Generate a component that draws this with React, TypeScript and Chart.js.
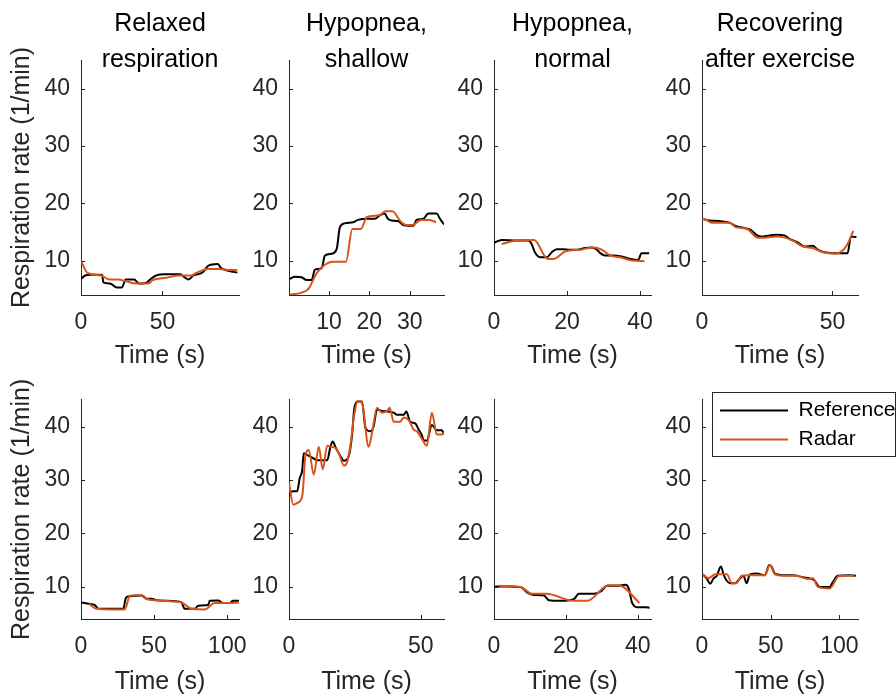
import React, { useEffect, useRef } from "react";
import { Chart, registerables } from "chart.js";

Chart.register(...registerables);

// ---------- Text ----------
const columnTitles: string[][] = [
  ["Relaxed", "respiration"],
  ["Hypopnea,", "shallow"],
  ["Hypopnea,", "normal"],
  ["Recovering", "after exercise"],
];
const xAxisLabel = "Time (s)";
const yAxisLabel = "Respiration rate (1/min)";
const seriesNames = ["Reference", "Radar"];
const yTickValues = [10, 20, 30, 40];

// ---------- Row 1, panel 1: Relaxed respiration ----------
const p1RefT = [0, 2.5, 6, 10, 13, 13.7, 17.8, 22, 25, 27.5, 32.6, 35.7, 39.8, 42.8, 46.9, 51, 61, 63.5, 66, 69, 75, 78, 84, 86, 91, 96];
const p1RefV = [6.8, 7.4, 7.55, 7.55, 7.5, 6.2, 6.0, 5.3, 5.3, 6.7, 6.7, 6.0, 6.1, 6.8, 7.5, 7.6, 7.6, 7.1, 6.7, 7.4, 8.0, 9.1, 9.4, 8.7, 8.2, 7.9];
const p1RadT = [0, 4, 12.3, 17.5, 22.5, 28.7, 33.8, 41.4, 44, 52.3, 60.5, 67.7, 70.7, 78, 85, 91, 96];
const p1RadV = [10.0, 7.85, 7.4, 6.7, 6.7, 6.3, 6.0, 6.0, 6.6, 7.0, 7.4, 7.4, 7.85, 8.55, 8.55, 8.35, 8.35];
const p1XTicks = [0, 50];

// ---------- Row 1, panel 2: Hypopnea, shallow ----------
const p2RefT = [0.2, 1.6, 3.2, 4.5, 5.7, 6.5, 8.2, 9.0, 10.6, 11.9, 12.7, 13.9, 16, 17.2, 19.3, 21.3, 22.6, 23.8, 24.6, 25.5, 27.1, 28.4, 29.6, 30.9, 31.7, 33.4, 34.6, 36.7, 37.5, 38.5];
const p2RefV = [6.8, 7.2, 7.1, 6.6, 6.6, 8.4, 8.7, 10.9, 11.2, 12.0, 15.8, 16.5, 16.7, 17.1, 17.3, 17.3, 17.9, 18.2, 17.3, 17.0, 16.9, 16.2, 16.1, 16.1, 17.1, 17.3, 18.2, 18.2, 17.3, 16.3];
const p2RadT = [0.4, 4.7, 7.1, 10.9, 14.2, 15.8, 17.9, 19.4, 22.4, 24.1, 25.7, 27.8, 29.1, 30.7, 32.8, 34.8, 36.5];
const p2RadV = [4.05, 4.9, 7.95, 9.8, 9.8, 15.5, 15.5, 17.6, 17.9, 18.6, 18.6, 16.8, 16.2, 16.2, 17.1, 17.1, 16.7];
const p2XTicks = [10, 20, 30];

// ---------- Row 1, panel 3: Hypopnea, normal ----------
const p3RefT = [0, 2.1, 6.2, 9.4, 10.3, 11.2, 12.6, 14.5, 15.8, 17.2, 19.1, 20.5, 22.7, 25, 26.8, 28.2, 29.1, 30.4, 32.7, 35, 37.3, 39.5, 40.4, 42.5];
const p3RefV = [13.1, 13.6, 13.5, 13.5, 12.9, 11.45, 10.6, 10.6, 11.45, 12.0, 12.0, 11.9, 11.9, 12.2, 12.3, 11.9, 11.3, 10.9, 10.9, 10.7, 10.3, 10.1, 11.3, 11.3];
const p3RadT = [2.1, 6.2, 11.0, 14.7, 16.4, 19.5, 23.6, 27.3, 29.5, 31.8, 35, 37.8, 41.2];
const p3RadV = [12.9, 13.5, 13.6, 10.3, 10.3, 11.6, 11.9, 12.3, 11.9, 10.9, 10.5, 10.0, 9.9];
const p3XTicks = [0, 20, 40];

// ---------- Row 1, panel 4: Recovering after exercise ----------
const p4RefT = [0, 2.9, 6.7, 10.6, 13.1, 17, 18.9, 20.8, 22.7, 25.9, 28.4, 31.6, 33.5, 36.7, 39.3, 42.4, 44.4, 46.9, 50.1, 53.3, 55.8, 57.1, 59.2];
const p4RefV = [17.3, 17.0, 16.9, 16.6, 16.0, 15.6, 15.3, 14.5, 14.2, 14.4, 14.5, 14.4, 13.8, 13.2, 12.45, 12.6, 11.9, 11.45, 11.3, 11.3, 11.3, 14.2, 14.1];
const p4RadT = [0, 1.7, 3.6, 10.6, 13.1, 17, 21.4, 24, 28.4, 31, 34.8, 38.7, 42.4, 46.3, 51.4, 54, 55.8, 58];
const p4RadV = [17.3, 17.1, 16.6, 16.6, 15.8, 15.6, 14.0, 14.0, 14.2, 14.1, 13.5, 12.45, 12.2, 11.45, 11.2, 11.8, 12.9, 15.2];
const p4XTicks = [0, 50];

// ---------- Row 2, panel 5 ----------
const p5RefT = [0.3, 6.1, 9.5, 11.8, 19.8, 28.9, 30.7, 33.4, 41.4, 44.8, 48.2, 51.6, 58.4, 65.2, 68.7, 70.9, 77.8, 80.1, 86.9, 88, 93.7, 97.1, 101.7, 103.9, 108];
const p5RefV = [7.1, 6.8, 6.6, 5.9, 5.9, 5.9, 7.95, 8.25, 8.4, 7.8, 7.8, 7.5, 7.4, 7.3, 7.1, 5.9, 5.9, 6.5, 6.6, 7.4, 7.45, 7.0, 7.0, 7.4, 7.4];
const p5RadT = [5.7, 10.7, 19.8, 30, 33.4, 41.4, 45.9, 51.6, 60.7, 68.7, 75.5, 84.6, 91.4, 101.7, 108];
const p5RadV = [6.8, 5.9, 5.8, 5.8, 8.35, 8.5, 7.65, 7.5, 7.3, 7.1, 5.9, 5.8, 7.0, 7.0, 7.1];
const p5XTicks = [0, 50, 100];

// ---------- Row 2, panel 6 ----------
const p6RefT = [0, 1.2, 3.1, 4.1, 5, 5.6, 7.5, 8.8, 10.7, 14.5, 15.7, 16.6, 17.6, 19.5, 20.8, 22.7, 23.9, 24.8, 26.1, 27.7, 29, 30.9, 32.1, 33.4, 35.3, 37.8, 39.7, 41, 43.5, 44.5, 46, 47.9, 49.2, 50.4, 51.1, 52.3, 54.2, 56.1, 58, 58.8];
const p6RefV = [27.2, 27.9, 27.9, 30.4, 31.8, 35.0, 34.5, 34.2, 33.7, 33.7, 36.2, 37.2, 36.2, 34.5, 33.6, 34.5, 38.3, 43.5, 44.7, 44.7, 39.7, 39.1, 40.0, 43.2, 42.9, 42.8, 42.6, 42.2, 42.2, 42.8, 40.9, 40.6, 39.4, 38.4, 37.4, 37.4, 40.3, 39.3, 39.3, 38.5];
const p6RadT = [0, 1.6, 3.1, 5, 6.3, 7.5, 9.4, 11.3, 12.8, 14.5, 16.1, 17.6, 18.9, 20.8, 22, 23.3, 24.6, 26.1, 27.7, 30.2, 31.5, 33.4, 35.3, 37.2, 38.2, 39.7, 42.2, 43.5, 45.4, 47.3, 48.5, 50.4, 52.3, 54.2, 56.1, 58, 58.9];
const p6RadV = [29.5, 25.4, 25.7, 26.9, 34.8, 35.6, 31.0, 36.2, 32.0, 36.4, 36.2, 36.0, 35.0, 32.7, 33.3, 36.5, 41.7, 44.8, 44.4, 36.2, 38.8, 43.5, 42.6, 42.9, 43.5, 40.9, 40.9, 41.7, 41.2, 39.4, 39.1, 37.7, 36.4, 42.6, 38.5, 38.5, 38.8];
const p6XTicks = [0, 50];

// ---------- Row 2, panel 7 ----------
const p7RefT = [0.3, 3.7, 7.4, 9.3, 11.1, 13.9, 15.3, 18.5, 22.2, 23.6, 27.8, 29.6, 31.5, 34.3, 36.6, 37.5, 38.4, 39.8, 42.1, 43.3];
const p7RefV = [10.1, 10.1, 10.0, 8.95, 8.5, 8.4, 7.5, 7.4, 7.7, 8.7, 8.7, 9.1, 10.2, 10.2, 10.4, 9.7, 7.1, 6.2, 6.2, 6.1];
const p7RadT = [1.4, 7.4, 10.6, 14.6, 22.2, 25.9, 31.9, 34.7, 40.5];
const p7RadV = [10.2, 10.0, 8.7, 8.7, 7.4, 7.4, 10.3, 10.3, 7.0];
const p7XTicks = [0, 20, 40];

// ---------- Row 2, panel 8 ----------
const p8RefT = [0.7, 3.6, 6, 8.4, 10.8, 13.7, 15.7, 17.6, 20.5, 24.1, 27.7, 30.1, 32.5, 34.9, 39.8, 45.8, 48.9, 50.6, 53, 59, 66.3, 73.5, 78.3, 81.9, 85.5, 92.8, 95.2, 98.8, 107.2, 112];
const p8RefV = [12.35, 11.5, 10.6, 11.6, 12.1, 13.8, 12.35, 11.3, 10.7, 10.7, 11.6, 12.1, 10.7, 12.35, 12.5, 12.2, 14.1, 13.8, 12.5, 12.2, 12.2, 11.8, 11.6, 11.2, 10.0, 10.0, 10.9, 12.1, 12.2, 12.1];
const p8RadT = [0.7, 4.8, 9.6, 18.1, 21.7, 24.8, 28.9, 34.9, 45.8, 49.4, 53, 59, 68.7, 77.1, 80.7, 84.3, 92.8, 100, 110.8];
const p8RadV = [12.35, 11.6, 12.35, 12.35, 10.7, 10.7, 12.1, 12.2, 12.2, 14.1, 12.35, 12.1, 12.1, 11.5, 11.6, 10.0, 9.7, 12.1, 12.1];
const p8XTicks = [0, 50, 100];

// ---------- Styling / layout ----------
const FONT = "'Liberation Sans', Arial, Helvetica, sans-serif";
const AXIS = "#262626";
const REF_COLOR = "#000000";
const RADAR_COLOR = "#D95319";

// page-pixel layout of each column: canvas left, plot left, plot right
const COLS = [
  { canvasLeft: 0, plotLeft: 81, plotRight: 239 },
  { canvasLeft: 240, plotLeft: 289, plotRight: 444 },
  { canvasLeft: 445, plotLeft: 494, plotRight: 651 },
  { canvasLeft: 652, plotLeft: 702, plotRight: 858 },
];
const ROWS = [
  { canvasTop: 0, canvasH: 375, plotTop: 60, plotBottom: 295, xTitlePad: 4 },
  { canvasTop: 375, canvasH: 322, plotTop: 385, plotBottom: 619, xTitlePad: 0 },
];
const CANVAS_RIGHT_PAD = 25;
const PAGE_W = 896;
const PAGE_H = 697;
const LEGEND_FRAME = { left: 712, top: 392, right: 896, bottom: 457 };

type PanelDef = {
  row: number;
  col: number;
  refT: number[];
  refV: number[];
  radT: number[];
  radV: number[];
  xMin: number;
  xMax: number;
  xTicks: number[];
  legend?: boolean;
};

const panels: PanelDef[] = [
  { row: 0, col: 0, refT: p1RefT, refV: p1RefV, radT: p1RadT, radV: p1RadV, xMin: 0, xMax: 97, xTicks: p1XTicks },
  { row: 0, col: 1, refT: p2RefT, refV: p2RefV, radT: p2RadT, radV: p2RadV, xMin: 0.1, xMax: 38.5, xTicks: p2XTicks },
  { row: 0, col: 2, refT: p3RefT, refV: p3RefV, radT: p3RadT, radV: p3RadV, xMin: 0, xMax: 43, xTicks: p3XTicks },
  { row: 0, col: 3, refT: p4RefT, refV: p4RefV, radT: p4RadT, radV: p4RadV, xMin: 0, xMax: 59.8, xTicks: p4XTicks },
  { row: 1, col: 0, refT: p5RefT, refV: p5RefV, radT: p5RadT, radV: p5RadV, xMin: 0, xMax: 108, xTicks: p5XTicks },
  { row: 1, col: 1, refT: p6RefT, refV: p6RefV, radT: p6RadT, radV: p6RadV, xMin: 0, xMax: 58.8, xTicks: p6XTicks },
  { row: 1, col: 2, refT: p7RefT, refV: p7RefV, radT: p7RadT, radV: p7RadV, xMin: 0, xMax: 43.7, xTicks: p7XTicks },
  { row: 1, col: 3, refT: p8RefT, refV: p8RefV, radT: p8RadT, radV: p8RadV, xMin: 0, xMax: 113.5, xTicks: p8XTicks, legend: true },
];

const zip = (t: number[], v: number[]) => t.map((x, i) => ({ x, y: v[i] }));

// inward tick marks (MATLAB style)
const inwardTicks = {
  id: "inwardTicks",
  afterDatasetsDraw(chart: any) {
    const { ctx, chartArea, scales } = chart;
    const len = 4;
    ctx.save();
    ctx.strokeStyle = AXIS;
    ctx.lineWidth = 1;
    scales.x.ticks.forEach((t: any) => {
      const px = Math.round(scales.x.getPixelForValue(t.value)) + 0.5;
      ctx.beginPath();
      ctx.moveTo(px, chartArea.bottom);
      ctx.lineTo(px, chartArea.bottom - len);
      ctx.stroke();
    });
    scales.y.ticks.forEach((t: any) => {
      const py = Math.round(scales.y.getPixelForValue(t.value)) + 0.5;
      ctx.beginPath();
      ctx.moveTo(chartArea.left, py);
      ctx.lineTo(chartArea.left + len, py);
      ctx.stroke();
    });
    ctx.restore();
  },
};

// place the legend box at a fixed spot and draw its frame
const legendPlace = {
  id: "legendPlace",
  afterLayout(chart: any, _args: any, opts: any) {
    const lg = chart.legend;
    if (!lg || !opts || !opts.box) return;
    const b = opts.box;
    lg.left = b.left;
    lg.top = b.top;
    lg.right = b.right;
    lg.bottom = b.bottom + 60; // room so both items stay in one column
    lg.width = lg.right - lg.left;
    lg.height = lg.bottom - lg.top;
  },
  afterDraw(chart: any, _args: any, opts: any) {
    if (!opts || !opts.box) return;
    const b = opts.box;
    const ctx = chart.ctx;
    ctx.save();
    ctx.strokeStyle = AXIS;
    ctx.lineWidth = 1;
    ctx.strokeRect(b.left + 0.5, b.top + 0.5, b.right - b.left - 1, b.bottom - b.top - 1);
    ctx.restore();
  },
};

function Panel({ def }: { def: PanelDef }) {
  const ref = useRef<HTMLCanvasElement>(null);
  const colL = COLS[def.col];
  const rowL = ROWS[def.row];
  const canvasRight = def.col === 3 ? PAGE_W : colL.plotRight + CANVAS_RIGHT_PAD;
  const width = canvasRight - colL.canvasLeft;
  const height = rowL.canvasH;

  useEffect(() => {
    const canvas = ref.current!;
    const yAxisW = colL.plotLeft - colL.canvasLeft;
    const xAxisH = rowL.canvasTop + rowL.canvasH - rowL.plotBottom;
    const padRight = canvasRight - colL.plotRight;
    const padTop = def.row === 0 ? 0 : rowL.plotTop - rowL.canvasTop;

    const legendBox = def.legend
      ? {
          left: LEGEND_FRAME.left - colL.canvasLeft,
          top: LEGEND_FRAME.top - rowL.canvasTop,
          right: LEGEND_FRAME.right - colL.canvasLeft,
          bottom: LEGEND_FRAME.bottom - rowL.canvasTop,
        }
      : null;

    const chart = new Chart(canvas, {
      type: "line",
      data: {
        datasets: [
          {
            label: seriesNames[0],
            data: zip(def.refT, def.refV),
            borderColor: REF_COLOR,
            backgroundColor: REF_COLOR,
            borderWidth: 2,
            pointRadius: 0,
            cubicInterpolationMode: "monotone",
            borderJoinStyle: "round",
            order: 1,
          },
          {
            label: seriesNames[1],
            data: zip(def.radT, def.radV),
            borderColor: RADAR_COLOR,
            backgroundColor: RADAR_COLOR,
            borderWidth: 2,
            pointRadius: 0,
            cubicInterpolationMode: "monotone",
            borderJoinStyle: "round",
            order: 0,
          },
        ],
      },
      options: {
        responsive: false,
        animation: false,
        events: [],
        layout: { padding: { top: padTop, right: padRight, left: 0, bottom: 0 } },
        plugins: {
          tooltip: { enabled: false },
          title:
            def.row === 0
              ? {
                  display: true,
                  text: columnTitles[def.col],
                  fullSize: false,
                  color: "#000",
                  font: { family: FONT, size: 25, weight: "normal", lineHeight: 1.44 },
                  padding: { top: 6, bottom: -18 },
                }
              : { display: false },
          legend: def.legend
            ? {
                display: true,
                position: "chartArea",
                align: "start",
                labels: {
                  usePointStyle: true,
                  pointStyle: "line",
                  pointStyleWidth: 68,
                  padding: 8,
                  color: "#000",
                  font: { family: FONT, size: 21 },
                  sort: (a: any, b: any) => a.datasetIndex - b.datasetIndex,
                },
              }
            : { display: false },
          legendPlace: { box: legendBox },
        } as any,
        scales: {
          x: {
            type: "linear",
            min: def.xMin,
            max: def.xMax,
            grid: { display: false, drawTicks: false },
            border: { display: true, color: AXIS, width: 1 },
            ticks: {
              color: AXIS,
              font: { family: FONT, size: 23 },
              padding: 14,
              maxRotation: 0,
              autoSkip: false,
              callback: (v: any) => String(v),
            },
            afterBuildTicks: (s: any) => {
              s.ticks = def.xTicks.map((v) => ({ value: v }));
            },
            afterFit: (s: any) => {
              s.height = xAxisH;
            },
            title: {
              display: true,
              text: xAxisLabel,
              color: AXIS,
              font: { family: FONT, size: 25, lineHeight: 1.2 },
              padding: { top: 0, bottom: rowL.xTitlePad },
            },
          },
          y: {
            type: "linear",
            min: 4,
            max: 45,
            grid: { display: false, drawTicks: false },
            border: { display: true, color: AXIS, width: 1 },
            ticks: {
              color: AXIS,
              font: { family: FONT, size: 23 },
              padding: 11,
              callback: (v: any) => String(v),
            },
            afterBuildTicks: (s: any) => {
              s.ticks = yTickValues.map((v) => ({ value: v }));
            },
            afterFit: (s: any) => {
              s.width = yAxisW;
            },
            title:
              def.col === 0
                ? {
                    display: true,
                    text: yAxisLabel,
                    color: AXIS,
                    font: { family: FONT, size: 25, lineHeight: 1.2 },
                    padding: { top: 7, bottom: 0 },
                  }
                : { display: false },
          },
        },
      } as any,
      plugins: [inwardTicks, legendPlace],
    });
    return () => chart.destroy();
  }, []);

  return (
    <canvas
      ref={ref}
      width={width}
      height={height}
      style={{
        position: "absolute",
        left: colL.canvasLeft,
        top: rowL.canvasTop,
        width,
        height,
      }}
    />
  );
}

export default function App() {
  return (
    <div
      style={{
        position: "absolute",
        left: 0,
        top: 0,
        width: PAGE_W,
        height: PAGE_H,
        background: "#ffffff",
        overflow: "hidden",
      }}
    >
      {panels.map((p, i) => (
        <Panel key={i} def={p} />
      ))}
    </div>
  );
}
